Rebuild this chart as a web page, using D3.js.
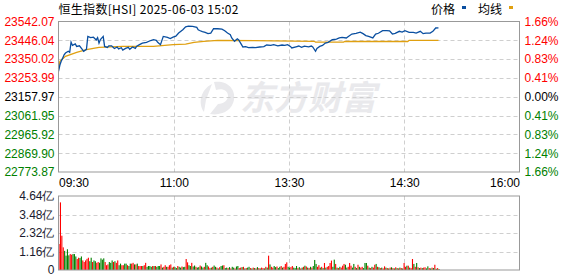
<!DOCTYPE html>
<html>
<head>
<meta charset="utf-8">
<script src="https://cdn.jsdelivr.net/npm/d3@7/dist/d3.min.js"></script>
<style>
  body { margin: 0; background: #fff; }
  svg { display: block; }
  text { font-family: "Liberation Sans", Arial, sans-serif; }
  .cjk { font-family: "Noto Sans CJK SC", sans-serif; }
</style>
</head>
<body>
<svg id="chart" width="578" height="276"></svg>
<script>
// ---- data ----
var title = "恒生指数[HSI] 2025-06-03 15:02";
var prevClose = 23157.97;
var priceTicks = [22773.87, 22869.90, 22965.92, 23061.95, 23157.97, 23253.99, 23350.02, 23446.04, 23542.07];
var pctTicks = ["1.66%", "1.24%", "0.83%", "0.41%", "0.00%", "0.41%", "0.83%", "1.24%", "1.66%"];
var timeTicks = ["09:30", "11:00", "13:30", "14:30", "16:00"];
var totalMinutes = 330;

// price line: trading minute since 09:30 (lunch removed) and price
var priceMin = [0, 1, 2, 3, 4, 5, 7, 8, 9, 10, 12, 13, 15, 17, 18, 20, 21, 23, 25, 27, 28, 29, 30, 32, 33, 35, 36, 38, 40, 42,
  43, 45, 46, 48, 50, 51, 53, 55, 56, 58, 60, 63, 66, 68, 70, 71, 73, 75, 78, 80, 82, 84, 86, 89, 91, 93, 96, 99, 100, 101,
  103, 105, 107, 109, 111, 114, 117, 119, 121, 123, 124, 126, 128, 129, 131, 132, 134, 136, 139, 141, 144, 147, 149, 152, 154, 157, 160, 162, 164, 166,
  167, 170, 172, 174, 176, 179, 181, 182, 184, 185, 187, 189, 191, 193, 196, 199, 201, 203, 206, 208, 210, 213, 216, 218, 220, 222, 225, 227, 229, 232,
  235, 237, 239, 241, 244, 246, 248, 251, 254, 256, 259, 261, 263, 266, 268, 270, 272];
var priceVal = [23288, 23320, 23340, 23355, 23372, 23381, 23390, 23385, 23437, 23420, 23428, 23415, 23418, 23400, 23390, 23400, 23466, 23460, 23462, 23448, 23460, 23432, 23450, 23466, 23415, 23410, 23418, 23418, 23404, 23412,
  23402, 23408, 23396, 23405, 23410, 23400, 23412, 23405, 23416, 23424, 23432, 23436, 23445, 23449, 23446, 23436, 23424, 23466, 23461, 23455, 23462, 23467, 23483, 23500, 23515, 23518, 23517, 23512, 23500, 23496,
  23490, 23486, 23480, 23483, 23505, 23505, 23503, 23495, 23483, 23475, 23458, 23441, 23454, 23448, 23424, 23412, 23414, 23409, 23410, 23409, 23412, 23414, 23422, 23420, 23424, 23418, 23422, 23420, 23424, 23415,
  23407, 23413, 23417, 23410, 23416, 23413, 23417, 23412, 23390, 23405, 23415, 23420, 23432, 23436, 23449, 23452, 23458, 23461, 23458, 23468, 23478, 23482, 23488, 23480, 23470, 23466, 23458, 23478, 23482, 23495,
  23495, 23494, 23478, 23482, 23492, 23488, 23495, 23487, 23487, 23483, 23492, 23480, 23483, 23483, 23492, 23509, 23510];

// average line
var avgMin = [0, 1, 5, 13, 20, 29, 46, 68, 82, 91, 97, 104, 114, 183, 184, 204, 205, 250, 251, 272];
var avgVal = [23300, 23339, 23364, 23385, 23398, 23410, 23415, 23415, 23424, 23427, 23436, 23441, 23446, 23441, 23437, 23437, 23440, 23440, 23446, 23446];

// volume per minute, in 亿 (1e8)
var volumes = [
  1.63, 4.24, 2.15, 1.42, 1.20, 0.90, 1.30, 0.92, 1.00, 0.96,
  1.00, 1.00, 0.85, 0.69, 0.77, 0.75, 0.85, 0.60, 0.50, 0.60,
  0.70, 0.77, 0.55, 0.77, 0.50, 0.60, 0.55, 0.45, 0.50, 0.45,
  0.73, 0.65, 0.73, 0.50, 0.30, 0.35, 0.50, 0.45, 0.60, 0.50,
  0.55, 0.45, 0.60, 0.30, 0.40, 0.30, 0.30, 0.40, 0.40, 0.30,
  0.25, 0.40, 0.40, 0.45, 0.35, 0.35, 0.40, 0.25, 0.25, 0.25,
  0.25, 0.30, 0.45, 0.20, 0.25, 0.25, 0.20, 0.25, 0.25, 0.25,
  0.20, 0.25, 0.25, 0.35, 0.15, 0.20, 0.30, 0.20, 0.20, 0.30,
  0.35, 0.15, 0.20, 0.18, 0.12, 0.25, 0.20, 0.15, 0.22, 0.18,
  0.20, 0.69, 0.48, 0.30, 0.25, 0.45, 0.22, 0.28, 0.20, 0.15,
  0.18, 0.28, 0.22, 0.15, 0.20, 0.45, 0.30, 0.22, 0.12, 0.15,
  0.20, 0.28, 0.20, 0.15, 0.10, 0.18, 0.25, 0.28, 0.30, 0.12,
  0.15, 0.12, 0.18, 0.10, 0.20, 0.15, 0.10, 0.22, 0.25, 0.12,
  0.15, 0.18, 0.20, 0.10, 0.12, 0.15, 0.20, 0.12, 0.10, 0.15,
  0.12, 0.10, 0.18, 0.12, 0.10, 0.15, 0.12, 0.10, 0.20, 0.15,
  0.90, 0.35, 0.20, 0.15, 0.25, 0.18, 0.22, 0.12, 0.20, 0.25,
  0.15, 0.20, 0.38, 0.48, 0.20, 0.15, 0.18, 0.25, 0.15, 0.12,
  0.25, 0.12, 0.18, 0.10, 0.15, 0.20, 0.27, 0.22, 0.15, 0.12,
  0.20, 0.15, 0.25, 0.63, 0.38, 0.20, 0.30, 0.15, 0.20, 0.12,
  0.44, 0.15, 0.20, 0.25, 0.44, 0.59, 0.20, 0.65, 0.38, 0.15,
  0.12, 0.20, 0.15, 0.27, 0.38, 0.33, 0.15, 0.20, 0.44, 0.27,
  0.15, 0.38, 0.20, 0.12, 0.33, 0.20, 0.15, 0.20, 0.12, 0.44,
  0.44, 0.27, 0.15, 0.12, 0.20, 0.15, 0.33, 0.38, 0.20, 0.17,
  0.12, 0.15, 0.10, 0.23, 0.15, 0.12, 0.10, 0.15, 0.17, 0.12,
  0.10, 0.17, 0.12, 0.10, 0.15, 0.12, 0.10, 0.44, 0.20, 0.27,
  0.27, 0.15, 0.12, 0.69, 0.38, 0.20, 0.44, 0.17, 0.12, 0.15,
  0.12, 0.15, 0.17, 0.10, 0.23, 0.12, 0.10, 0.15, 0.12, 0.33,
  0.08, 0.12, 0.06
];
// r = up minute, g = down minute
var volumeDir =
  "rrrrggggrr" + "gggrrggrrr" + "rrggrggrrg" + "gggrrrgggr" + "grrggrrggr" +
  "ggrrgrgrrr" + "grrggggrgr" + "gggrgrrgrr" + "rgrggrggrg" + "grrggrggrg" +
  "grggrggrrg" + "rggrgrggrg" + "grgrggrggr" + "rgrgrggrgr" + "grgrgrrgrg" +
  "rgrrggrggr" + "grrrggrrgg" + "grgrgrgrgr" + "grgggrrgrg" + "rgrrrrggrg" +
  "rgrrrggrrr" + "ggrgrgrrgg" + "grgrgrrgrg" + "rgrrgrgrgr" + "grgrgrgrrg" +
  "rgrrgrgrgr" + "grrggrgrgr" + "grg";

var volTicks = [0, 1.16, 2.32, 3.48, 4.64];

// ---- layout ----
var left = 58.5, right = 519.5;
var priceTop = 21.5, priceBottom = 172;
var volTop = 196, volBottom = 270;

var svg = d3.select("#chart");

var x = d3.scaleLinear().domain([0, totalMinutes]).range([left, right]);
var xTick = d3.scalePoint().domain(timeTicks).range([left, right]);
var y = d3.scaleLinear().domain([priceTicks[0], priceTicks[priceTicks.length - 1]]).range([priceBottom, priceTop]);
var yVol = d3.scaleLinear().domain([0, volTicks[volTicks.length - 1]]).range([volBottom, volTop]);

var red = "#ff0000", green = "#008000";
function tickColor(v) {
  if (Math.abs(v - prevClose) < 0.01) return "#000";
  return v > prevClose ? red : green;
}

// watermark
var wm = svg.append("g").attr("fill", "#e9e9ec");
wm.append("path")
  .attr("d", "M214,82 C226,80 236,88 234,100 C232,110 222,116 210,114 L218,104 C224,104 228,100 228,96 C228,90 222,88 216,90 Z M204,112 C198,104 200,90 212,84 L206,100 Z");
wm.append("text")
  .attr("class", "cjk")
  .attr("x", 240).attr("y", 110)
  .attr("font-size", 34).attr("font-weight", "bold")
  .attr("font-style", "italic")
  .text("东方财富");

// grid lines
var grid = svg.append("g")
  .attr("stroke", "#cfcfcf").attr("stroke-dasharray", "4,3").attr("stroke-width", 1);
grid.selectAll(".hp").data(priceTicks.slice(1, -1)).enter().append("line")
  .attr("x1", left).attr("x2", right)
  .attr("y1", function (d) { return Math.round(y(d)) + 0.5; })
  .attr("y2", function (d) { return Math.round(y(d)) + 0.5; });
grid.selectAll(".hv").data(volTicks.slice(1, -1)).enter().append("line")
  .attr("x1", left).attr("x2", right)
  .attr("y1", function (d) { return Math.round(yVol(d)) + 0.5; })
  .attr("y2", function (d) { return Math.round(yVol(d)) + 0.5; });
grid.selectAll(".vp").data(timeTicks.slice(1, -1)).enter().append("line")
  .attr("x1", function (d) { return Math.round(xTick(d)) + 0.5; })
  .attr("x2", function (d) { return Math.round(xTick(d)) + 0.5; })
  .attr("y1", priceTop).attr("y2", priceBottom);
grid.selectAll(".vv").data(timeTicks.slice(1, -1)).enter().append("line")
  .attr("x1", function (d) { return Math.round(xTick(d)) + 0.5; })
  .attr("x2", function (d) { return Math.round(xTick(d)) + 0.5; })
  .attr("y1", volTop).attr("y2", volBottom);

// volume bars
var vol = volumes.map(function (v, i) { return { m: i, v: v, up: volumeDir.charAt(i) === "r" }; });
svg.append("g").selectAll("rect").data(vol).enter().append("rect")
  .attr("x", function (d) { return x(d.m); })
  .attr("width", 1.1)
  .attr("y", function (d) { return yVol(d.v); })
  .attr("height", function (d) { return volBottom - yVol(d.v); })
  .attr("fill", function (d) { return d.up ? red : green; });

// lines
var avgData = avgMin.map(function (m, i) { return { m: m, p: avgVal[i] }; });
var priceData = priceMin.map(function (m, i) { return { m: m, p: priceVal[i] }; });
var line = d3.line()
  .x(function (d) { return x(d.m); })
  .y(function (d) { return y(d.p); });

svg.append("path").datum(avgData)
  .attr("fill", "none").attr("stroke", "#e0a010").attr("stroke-width", 1.3)
  .attr("d", line);
svg.append("path").datum(priceData)
  .attr("fill", "none").attr("stroke", "#0a4fa0").attr("stroke-width", 1.3)
  .attr("d", line);

// frames
svg.append("rect")
  .attr("x", left).attr("y", priceTop).attr("width", right - left).attr("height", priceBottom - priceTop)
  .attr("fill", "none").attr("stroke", "#999").attr("stroke-width", 1);
svg.append("rect")
  .attr("x", left).attr("y", volTop).attr("width", right - left).attr("height", volBottom - volTop)
  .attr("fill", "none").attr("stroke", "#999").attr("stroke-width", 1);

// left price axis
var axL = svg.append("g").attr("transform", "translate(" + left + ",0)")
  .call(d3.axisLeft(y).tickValues(priceTicks).tickSize(0).tickPadding(4)
    .tickFormat(function (d) { return d.toFixed(2); }));
axL.select(".domain").remove();
axL.selectAll("text")
  .attr("font-size", 12).attr("font-family", "Liberation Sans, Arial, sans-serif")
  .attr("fill", function (d) { return tickColor(d); });

// right percent axis
var axR = svg.append("g").attr("transform", "translate(" + right + ",0)")
  .call(d3.axisRight(y).tickValues(priceTicks).tickSize(0).tickPadding(5)
    .tickFormat(function (d, i) { return pctTicks[priceTicks.length - 1 - i] || pctTicks[i]; }));
axR.select(".domain").remove();
axR.selectAll("text")
  .attr("font-size", 12).attr("font-family", "Liberation Sans, Arial, sans-serif")
  .attr("fill", function (d) { return tickColor(d); });

// time axis
var axB = svg.append("g").attr("transform", "translate(0," + priceBottom + ")")
  .call(d3.axisBottom(xTick).tickSize(0).tickPadding(6));
axB.select(".domain").remove();
axB.selectAll("text")
  .attr("font-size", 12).attr("font-family", "Liberation Sans, Arial, sans-serif").attr("fill", "#000")
  .attr("text-anchor", function (d, i) { return i === 0 ? "start" : (i === timeTicks.length - 1 ? "end" : "middle"); });

// volume axis
var axV = svg.append("g").attr("transform", "translate(" + left + ",0)")
  .call(d3.axisLeft(yVol).tickValues(volTicks).tickSize(0).tickPadding(4)
    .tickFormat(function (d) { return d === 0 ? "0" : d.toFixed(2) + "亿"; }));
axV.select(".domain").remove();
axV.selectAll("text")
  .attr("font-size", 12).attr("font-family", "Liberation Sans, 'Noto Sans CJK SC', sans-serif").attr("fill", "#1a1a2e");

// title
svg.append("text").attr("class", "cjk")
  .attr("x", left).attr("y", 14).attr("font-size", 12).attr("fill", "#000")
  .attr("textLength", 180).attr("lengthAdjust", "spacing")
  .text(title);

// legend
var legend = [{ name: "价格", color: "#0a4fa0" }, { name: "均线", color: "#e0a010" }];
var lg = svg.append("g").attr("transform", "translate(431,0)");
legend.forEach(function (d, i) {
  var g = lg.append("g").attr("transform", "translate(" + (i * 47) + ",0)");
  g.append("text").attr("class", "cjk").attr("y", 14).attr("font-size", 12).attr("fill", "#000").text(d.name);
  g.append("rect").attr("x", 31).attr("y", 6).attr("width", 4).attr("height", 3).attr("fill", d.color);
});
</script>
</body>
</html>
